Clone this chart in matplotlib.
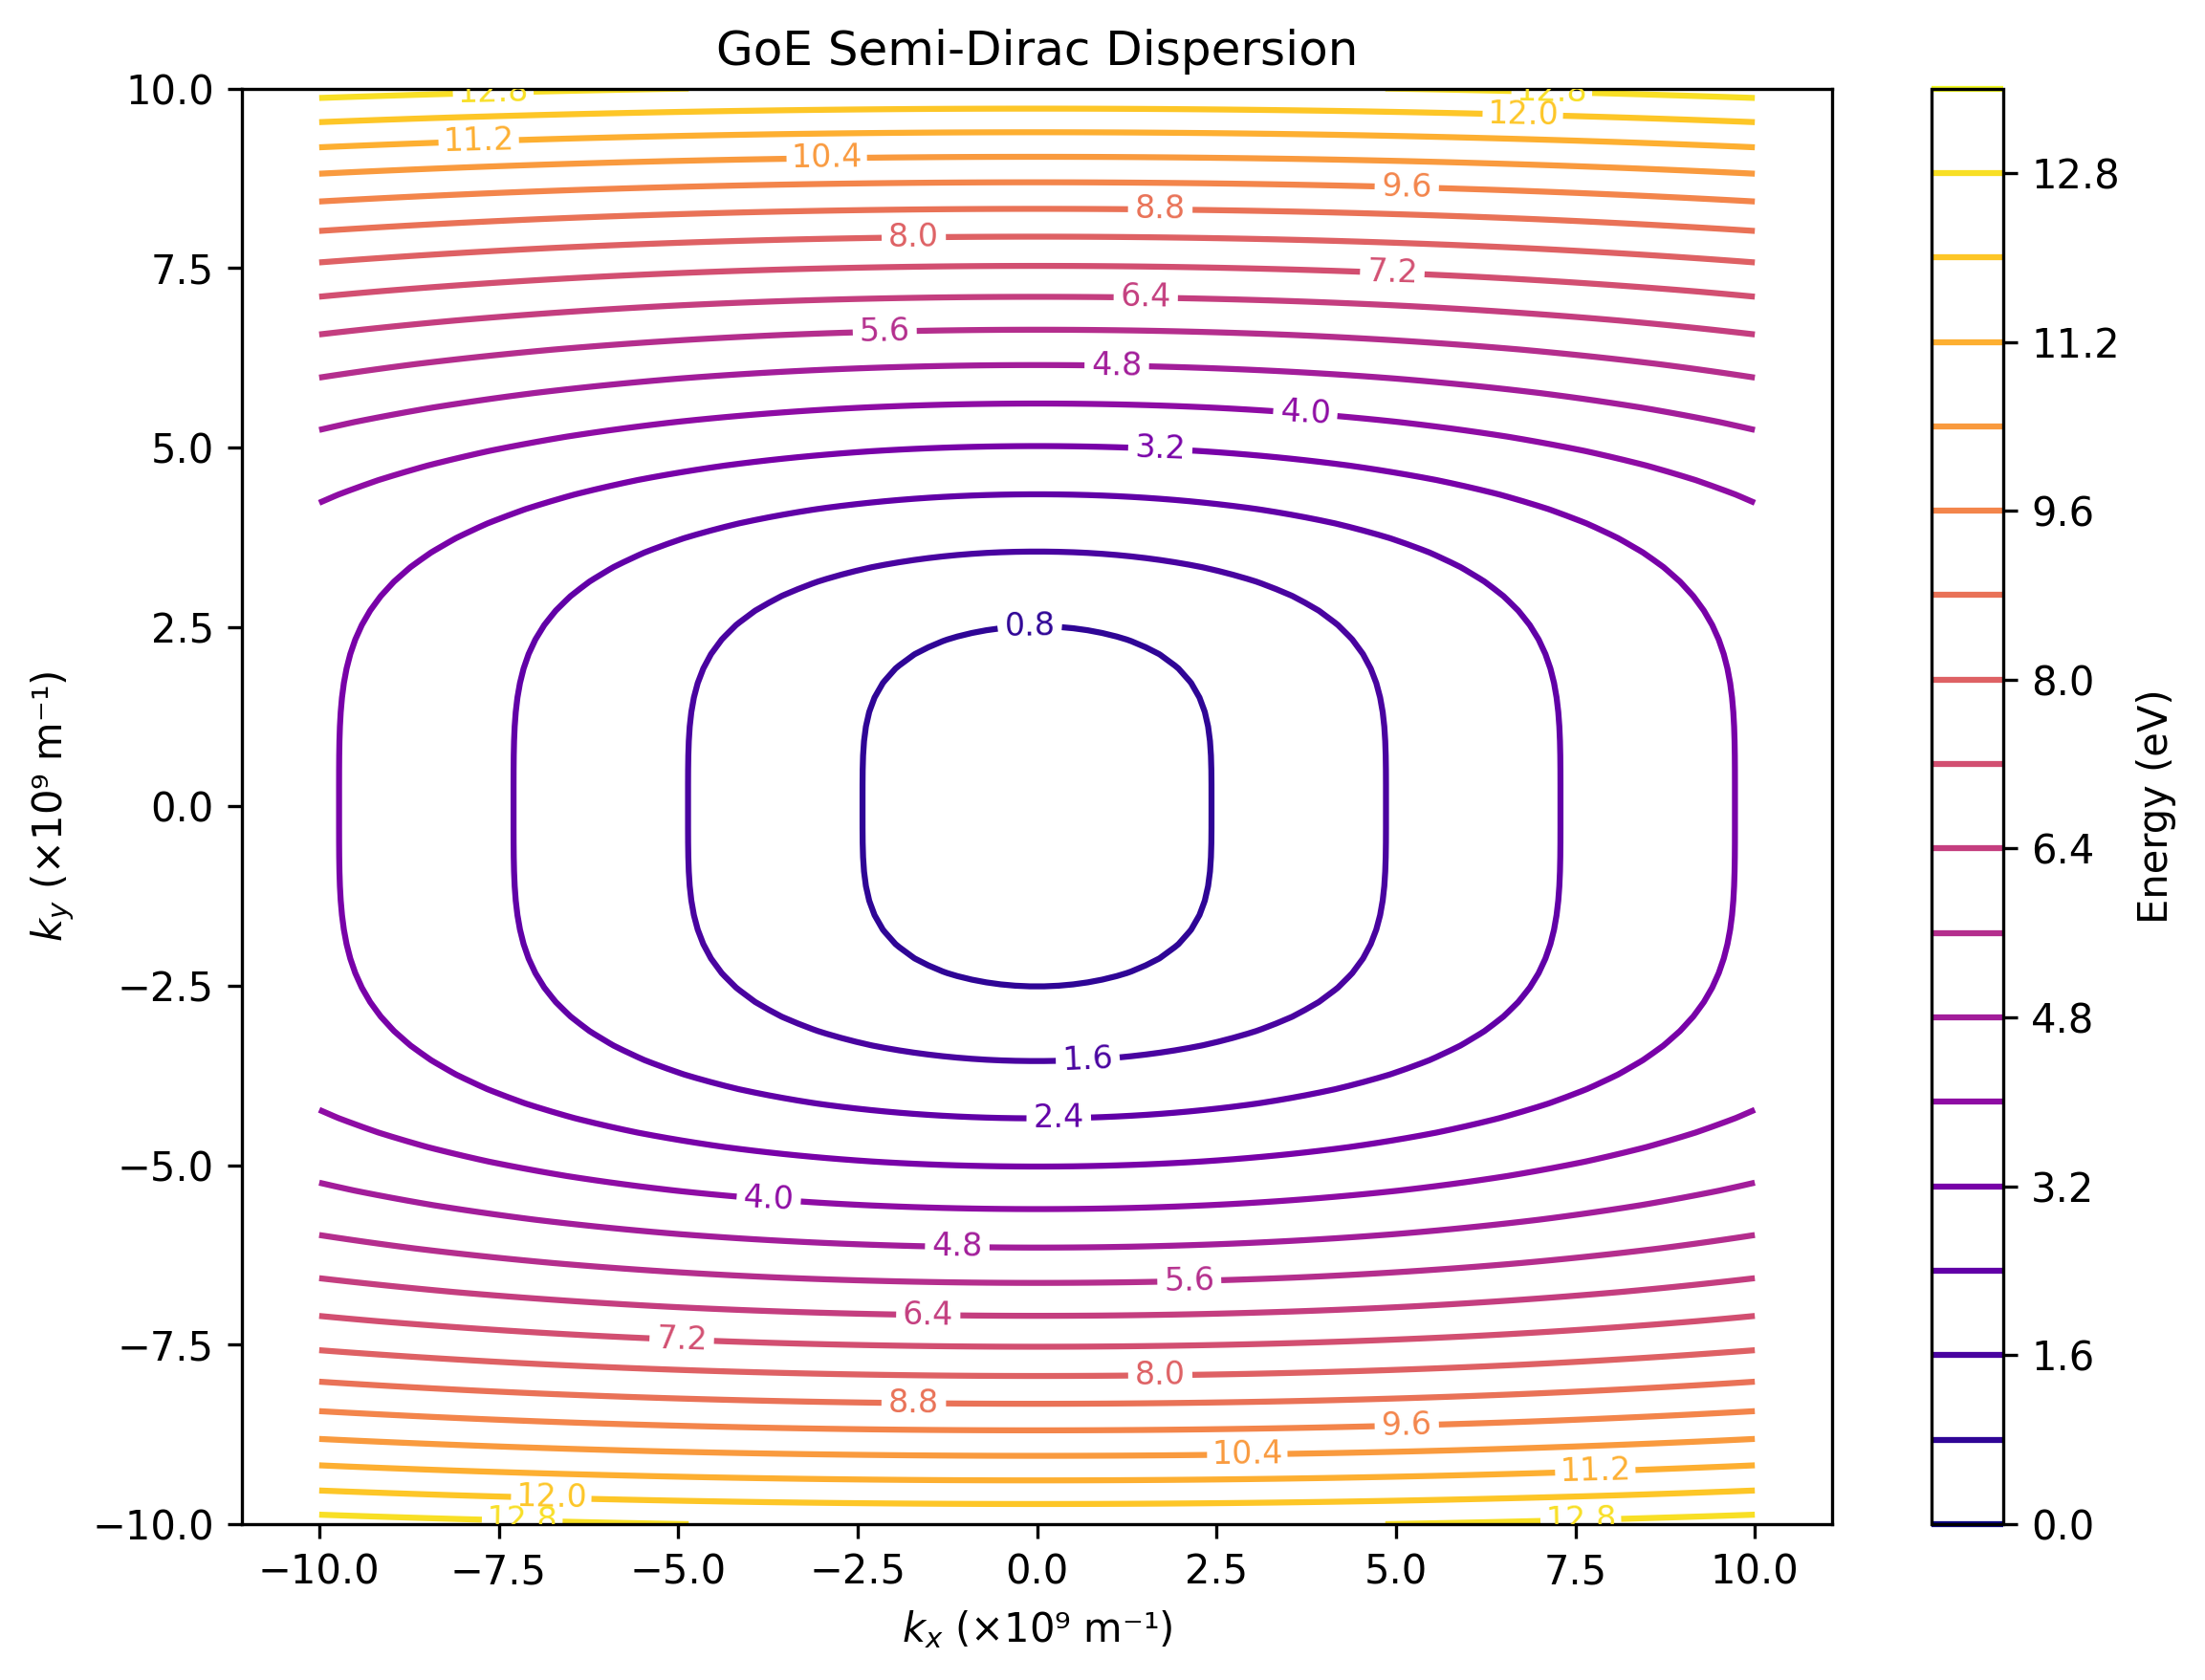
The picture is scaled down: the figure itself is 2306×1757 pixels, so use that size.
import matplotlib
matplotlib.use("Agg")
import matplotlib.pyplot as plt
import numpy as np

# constantes fisicas (SI)
hbar = 1.054571817e-34   # J s
m_e = 9.1093837015e-31   # kg
e = 1.602176634e-19      # J / eV

# parametros del modelo semi-Dirac (ajustados a la figura)
v_F = 5e5            # m/s, direccion lineal (kx)
m_eff = 0.3 * m_e    # masa efectiva, direccion cuadratica (ky)

k_lim = 1e10         # m^-1
n_k = 100

niveles = [0.0, 0.8, 1.6, 2.4, 3.2, 4.0, 4.8, 5.6, 6.4, 7.2,
           8.0, 8.8, 9.6, 10.4, 11.2, 12.0, 12.8, 13.6]
ticks_cbar = [0.0, 1.6, 3.2, 4.8, 6.4, 8.0, 9.6, 11.2, 12.8]

kx = np.linspace(-k_lim, k_lim, n_k)
ky = np.linspace(-k_lim, k_lim, n_k)
KX, KY = np.meshgrid(kx, ky)

# E = sqrt((hbar v kx)^2 + (hbar^2 ky^2 / 2m)^2), en eV
E = np.sqrt((hbar * v_F * KX)**2 + (hbar**2 * KY**2 / (2 * m_eff))**2) / e

fig = plt.figure(figsize=(8, 6))
ax = fig.add_subplot(111)
cs = ax.contour(KX / 1e9, KY / 1e9, E, levels=niveles, cmap="plasma")
ax.clabel(cs, inline=True, fontsize=8)

# tamaño final y posiciones
fig.set_size_inches(2306 / 300, 1757 / 300)
ax.set_position([0.1097, 0.0928, 0.7212, 0.8545])
ax.set_aspect("equal", adjustable="datalim")
cax = fig.add_axes([0.8760, 0.0928, 0.0325, 0.8545])

ax.set_title("GoE Semi-Dirac Dispersion")
ax.set_xlabel("$k_x$ (×10⁹ m⁻¹)")
ax.set_ylabel("$k_y$ (×10⁹ m⁻¹)")

cb = fig.colorbar(cs, cax=cax)
cb.set_ticks(ticks_cbar)
cb.set_label("Energy (eV)")

fig.savefig("out.png", dpi=300)
